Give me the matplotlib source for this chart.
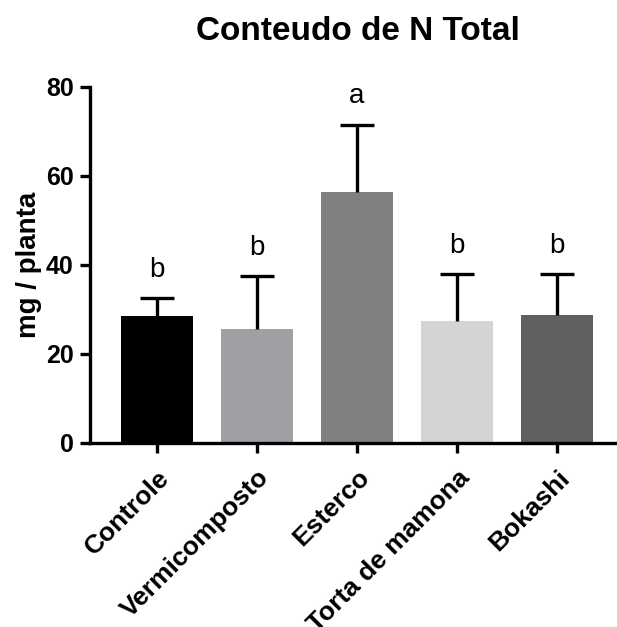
import matplotlib
matplotlib.use("Agg")
import matplotlib.pyplot as plt

categories = ["Controle", "Vermicomposto", "Esterco", "Torta de mamona", "Bokashi"]
means = [28.5, 25.5, 56.4, 27.3, 28.6]
sd_upper = [3.9, 11.9, 15.0, 10.6, 9.3]
letters = ["b", "b", "a", "b", "b"]
bar_colors = ["#000000", "#A0A0A4", "#808080", "#D4D4D4", "#606060"]
y_ticks = [0, 20, 40, 60, 80]

plt.rcParams["font.family"] = ["Liberation Sans", "DejaVu Sans"]

fig = plt.figure(figsize=(6.17, 6.27), dpi=100)
ax = fig.add_axes([89.5 / 617, 184.5 / 627, 527.5 / 617, 356 / 627])

x = list(range(len(categories)))
ax.bar(x, means, width=0.72, color=bar_colors, edgecolor="none", zorder=2)
_, caps, _ = ax.errorbar(x, means, yerr=[[0] * len(means), sd_upper], fmt="none",
                         ecolor="black", elinewidth=2.4, capsize=12.5,
                         capthick=2.4, zorder=3)
# one-sided (upper) error bars: hide the caps sitting on the bar tops
for cap in caps:
    if list(cap.get_ydata()) == list(means):
        cap.set_visible(False)

for xi, m, s, lab in zip(x, means, sd_upper, letters):
    ax.annotate(lab, (xi, m + s), xytext=(0, 11), textcoords="offset points",
                ha="center", va="bottom", fontsize=20)

ax.set_xlim(-0.675, 4.6)
ax.set_ylim(0, 80)
ax.set_yticks(y_ticks)
ax.set_yticklabels([str(v) for v in y_ticks], fontsize=18, fontweight="bold")
ax.set_xticks(x)
ax.set_xticklabels(categories, rotation=45, ha="right", rotation_mode="anchor",
                   fontsize=19, fontweight="bold")
ax.set_ylabel("mg / planta", fontsize=20, fontweight="bold", labelpad=3)

for side in ["top", "right"]:
    ax.spines[side].set_visible(False)
for side in ["left", "bottom"]:
    ax.spines[side].set_linewidth(2.4)
ax.tick_params(axis="both", width=2.4, length=7.5, direction="out")
ax.tick_params(axis="y", pad=4)
ax.tick_params(axis="x", pad=9)

fig.text(358 / 617, 1 - 40.5 / 627, "Conteudo de N Total", ha="center",
         va="baseline", fontsize=24, fontweight="bold")

fig.savefig("out.png", dpi=100)
